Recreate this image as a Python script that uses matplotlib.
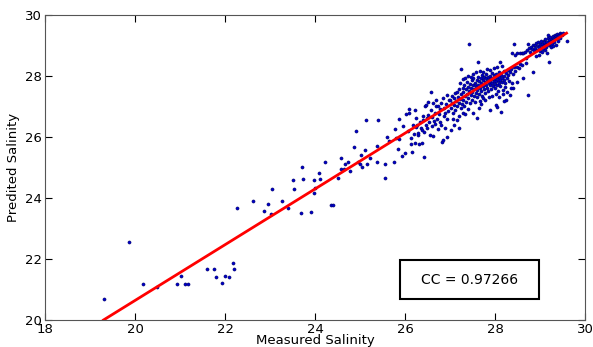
import numpy as np
import matplotlib
matplotlib.use("Agg")
import matplotlib.pyplot as plt
from matplotlib.patches import Rectangle

# =========================
# Datos
# =========================
# zona baja / dispersa
low_meas = [19.30, 19.87, 20.17, 20.49, 20.93, 21.03, 21.11, 21.18, 21.59, 21.75,
            21.79, 21.93, 21.99, 22.08, 22.17, 22.21, 22.27, 22.63, 22.87, 22.95,
            23.02, 23.04, 23.26, 23.41, 23.52, 23.54, 23.70, 23.69, 23.73, 23.90,
            23.97, 24.00, 23.98, 24.08, 24.10, 24.23, 24.36, 24.40, 24.51, 24.58,
            24.57, 24.65, 24.66, 24.73, 24.77, 24.87, 24.90, 24.96, 25.00, 25.02,
            25.04, 25.10, 25.13, 25.16, 25.23, 25.37, 25.38, 25.40, 25.55, 25.55,
            25.61, 25.65, 25.75, 25.77, 25.80, 25.85, 25.86, 25.87, 25.94, 25.96,
            26.00, 26.02, 26.06, 26.08, 26.10, 26.13, 26.13]
low_pred = [20.69, 22.55, 21.17, 21.07, 21.17, 21.45, 21.17, 21.17, 21.66, 21.66,
            21.40, 21.21, 21.45, 21.40, 21.86, 21.66, 23.66, 23.89, 23.57, 23.80,
            23.48, 24.30, 23.90, 23.66, 24.59, 24.30, 25.00, 23.51, 24.61, 23.54,
            24.58, 24.34, 24.15, 24.83, 24.61, 25.18, 23.76, 23.76, 24.64, 25.30,
            24.94, 24.96, 25.13, 25.19, 24.89, 25.66, 26.19, 25.18, 25.10, 25.40,
            25.00, 25.56, 26.56, 25.10, 25.31, 25.18, 25.70, 26.56, 24.66, 25.10,
            26.01, 25.86, 25.19, 26.25, 25.97, 25.60, 25.95, 26.59, 25.38, 26.37,
            25.46, 26.75, 26.20, 26.80, 26.93, 25.77, 25.98]

# zona 26 - 27
lmid_meas = [26.15, 26.18, 26.20, 26.22, 26.22, 26.24, 26.25, 26.26, 26.28, 26.30,
             26.31, 26.33, 26.35, 26.37, 26.37, 26.39, 26.41, 26.42, 26.43, 26.45,
             26.46, 26.47, 26.48, 26.50, 26.52, 26.52, 26.54, 26.55, 26.57, 26.58,
             26.59, 26.61, 26.62, 26.63, 26.64, 26.66, 26.67, 26.69, 26.70, 26.71,
             26.73, 26.74, 26.75, 26.77, 26.78, 26.80, 26.81, 26.83, 26.84, 26.85,
             26.86, 26.87, 26.89, 26.90, 26.91, 26.93, 26.93, 26.94, 26.96, 26.98,
             27.02, 27.06, 27.10, 27.15, 27.20]
lmid_pred = [25.52, 26.40, 26.10, 25.79, 26.89, 26.61, 26.34, 26.39, 26.05, 26.12,
             25.77, 26.50, 26.28, 25.79, 26.23, 26.70, 26.56, 25.33, 26.15, 27.02,
             26.40, 27.05, 26.62, 26.30, 27.16, 26.72, 26.48, 26.05, 26.88, 27.49,
             26.36, 26.66, 27.10, 26.04, 26.52, 26.80, 26.42, 27.00, 27.21, 26.60,
             26.26, 27.03, 26.74, 26.50, 26.92, 27.12, 26.38, 25.83, 25.90, 27.27,
             26.68, 26.96, 26.29, 26.80, 27.08, 27.38, 26.01, 26.58, 26.86, 27.20,
             26.24, 26.60, 26.40, 26.55, 26.30]

# nube central 27 - 28.7
mid_meas = [27.00, 27.02, 27.04, 27.05, 27.07, 27.08, 27.10, 27.11, 27.12, 27.14,
            27.15, 27.16, 27.18, 27.19, 27.20, 27.21, 27.22, 27.24, 27.25, 27.25,
            27.27, 27.28, 27.29, 27.30, 27.30, 27.31, 27.32, 27.33, 27.33, 27.35,
            27.36, 27.37, 27.38, 27.39, 27.40, 27.41, 27.42, 27.43, 27.44, 27.45,
            27.46, 27.47, 27.48, 27.49, 27.50, 27.51, 27.52, 27.52, 27.53, 27.54,
            27.55, 27.56, 27.57, 27.58, 27.59, 27.59, 27.60, 27.61, 27.62, 27.63,
            27.63, 27.64, 27.65, 27.66, 27.67, 27.68, 27.69, 27.70, 27.71, 27.72,
            27.73, 27.74, 27.74, 27.75, 27.76, 27.77, 27.78, 27.79, 27.80, 27.81,
            27.82, 27.83, 27.84, 27.85, 27.86, 27.87, 27.88, 27.89, 27.89, 27.90,
            27.91, 27.92, 27.93, 27.94, 27.95, 27.96, 27.97, 27.98, 27.99, 28.00,
            28.01, 28.02, 28.03, 28.04, 28.04, 28.05, 28.06, 28.07, 28.08, 28.09,
            28.10, 28.11, 28.11, 28.12, 28.13, 28.14, 28.15, 28.16, 28.17, 28.18,
            28.19, 28.20, 28.21, 28.22, 28.23, 28.24, 28.25, 28.26, 28.28, 28.30,
            28.31, 28.33, 28.34, 28.36, 28.37, 28.40, 28.42, 28.45, 28.48, 28.53,
            28.55, 28.60, 28.74, 28.50, 28.62, 28.40,
            27.22, 27.28, 27.34, 27.40, 27.46, 27.52, 27.58, 27.66, 27.74, 27.82,
            27.90, 27.97, 28.05, 28.15, 27.70, 27.78, 27.86, 27.94, 28.02, 28.10,
            28.20, 28.27, 28.35, 28.02, 27.65]
mid_pred = [27.20, 26.95, 27.35, 27.10, 26.80, 27.28, 27.05, 27.45, 26.90, 27.18,
            27.49, 27.00, 27.32, 26.70, 27.12, 27.58, 27.25, 26.96, 28.23, 27.40,
            27.08, 27.62, 27.20, 26.78, 27.48, 27.70, 27.02, 26.74, 27.34, 27.56,
            27.15, 27.80, 27.42, 26.92, 27.64, 27.28, 27.52, 29.05, 27.74, 27.10,
            27.38, 27.60, 27.86, 27.22, 27.48, 27.70, 26.78, 27.92, 27.36, 27.58,
            27.78, 27.14, 27.44, 27.66, 26.63, 27.88, 27.30, 27.54, 27.98, 28.45,
            27.72, 27.40, 27.84, 27.18, 27.62, 27.92, 27.50, 27.76, 28.04, 27.34,
            27.68, 27.29, 27.86, 27.56, 27.98, 27.80, 27.44, 27.72, 27.92, 28.06,
            27.62, 27.84, 27.96, 27.50, 27.76, 27.88, 28.00, 26.89, 27.70, 27.82,
            27.94, 27.58, 28.10, 27.78, 27.90, 27.66, 27.84, 28.02, 27.74, 27.92,
            27.60, 27.82, 28.06, 26.99, 27.72, 27.96, 27.86, 27.50, 28.12, 27.76,
            27.98, 28.45, 27.88, 27.68, 26.83, 28.04, 27.80, 27.94, 27.40, 27.54,
            28.16, 27.86, 28.00, 27.76, 27.64, 27.21, 28.10, 27.92, 28.20, 28.02,
            27.84, 27.38, 28.14, 28.24, 27.76, 28.06, 28.28, 28.18, 28.30, 28.25,
            28.40, 28.36, 27.38, 27.80, 27.95, 27.60,
            27.78, 27.90, 27.95, 28.00, 27.98, 28.08, 28.12, 28.18, 28.14, 28.22,
            28.20, 28.26, 28.30, 28.32, 27.08, 27.20, 27.30, 27.36, 27.42, 27.30,
            27.18, 27.46, 27.60, 27.05, 26.95]

# grupo superior 28.4 - 29.6
top_meas = [28.42, 28.37, 28.45, 28.50, 28.56, 28.60, 28.63, 28.66, 28.69, 28.72,
            28.74, 28.76, 28.78, 28.80, 28.82, 28.84, 28.85, 28.86, 28.88, 28.90,
            28.91, 28.93, 28.95, 28.96, 28.98, 29.00, 29.01, 29.02, 29.04, 29.05,
            29.06, 29.08, 29.09, 29.10, 29.11, 29.12, 29.13, 29.14, 29.15, 29.16,
            29.17, 29.18, 29.19, 29.20, 29.21, 29.22, 29.23, 29.24, 29.25, 29.26,
            29.27, 29.28, 29.29, 29.30, 29.31, 29.32, 29.33, 29.34, 29.35, 29.36,
            29.37, 29.38, 29.40, 29.41, 29.42, 29.44, 29.45, 29.47, 29.49, 29.52,
            29.59, 28.98, 29.05, 28.92, 28.70]
top_pred = [29.05, 28.74, 28.70, 28.76, 28.74, 28.76, 28.74, 28.80, 28.44, 28.86,
            29.05, 28.92, 28.80, 28.96, 28.88, 29.00, 28.12, 28.84, 29.02, 28.92,
            29.08, 28.86, 28.98, 29.10, 28.94, 29.04, 28.82, 29.14, 28.96, 29.06,
            28.90, 29.16, 29.00, 29.10, 28.86, 29.22, 29.04, 28.96, 28.74, 29.12,
            29.26, 29.34, 29.02, 29.18, 28.47, 29.08, 29.28, 28.94, 29.14, 29.22,
            29.04, 29.32, 29.18, 28.98, 29.26, 29.10, 29.36, 29.20, 29.30, 29.02,
            29.24, 29.38, 29.14, 29.30, 29.36, 29.40, 29.26, 29.38, 29.34, 29.40,
            29.16, 28.70, 28.80, 28.66, 28.60]

# recta de ajuste y correlacion
fit_slope = 0.914
fit_intercept = 2.36
cc_text = "CC = 0.97266"

measured = np.array(low_meas + lmid_meas + mid_meas + top_meas)
predicted = np.array(low_pred + lmid_pred + mid_pred + top_pred)

# =========================
# Grafico
# =========================
fig = plt.figure(figsize=(5.93, 3.47), dpi=100)
ax = fig.add_axes([0.0759, 0.0778, 0.9106, 0.879])

ax.scatter(measured, predicted, s=5, c="#0000cc", edgecolors="#000066",
           linewidths=0.4, zorder=2)

xs = np.array([measured.min(), measured.max()])
ax.plot(xs, fit_slope * xs + fit_intercept, color="red", lw=2, zorder=3)

ax.add_patch(Rectangle((25.90, 20.68), 3.07, 1.29, facecolor="white",
                       edgecolor="black", lw=1.5, zorder=4))
ax.text(27.435, 21.325, cc_text, ha="center", va="center", fontsize=10, zorder=5)

ax.set_xlim(18, 30)
ax.set_ylim(20, 30)
ax.set_xticks([18, 20, 22, 24, 26, 28, 30])
ax.set_yticks([20, 22, 24, 26, 28, 30])
ax.tick_params(direction="in", top=True, right=True, labelsize=9.5, length=5, pad=2)
ax.set_xlabel("Measured Salinity", fontsize=9.5, labelpad=-1)
ax.set_ylabel("Predited Salinity", fontsize=9.5, labelpad=4)
for sp in ax.spines.values():
    sp.set_color("#555555")

fig.savefig("out.png", dpi=100)
